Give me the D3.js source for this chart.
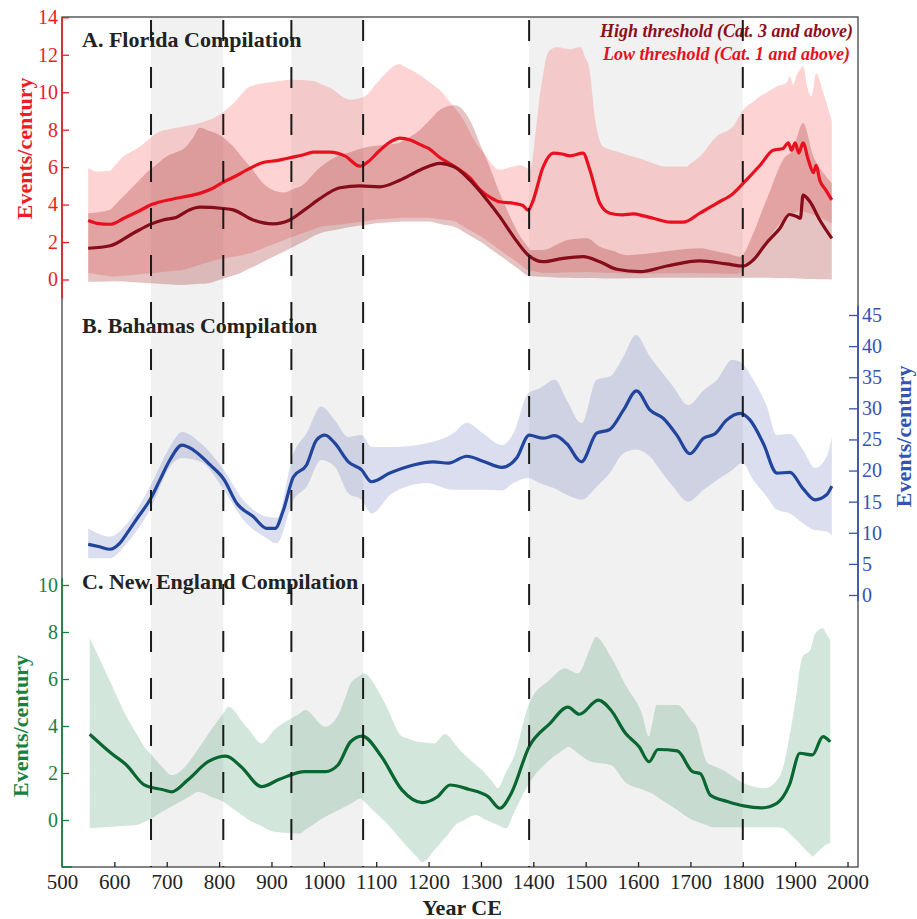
<!DOCTYPE html>
<html>
<head>
<meta charset="utf-8">
<script src="https://cdn.jsdelivr.net/npm/d3@7"></script>
<style>
  body { margin: 0; background: #fff; }
  svg { display: block; }
  text { font-family: "Liberation Serif", "Times New Roman", serif; }
</style>
</head>
<body>
<svg id="chart" width="917" height="919"></svg>
<script>
// ---------- Data (events per century, by year CE) ----------

// Florida, low threshold (Cat. 1 and above)
const flLowYears = [550,567,592,620,650,671,712,740,763,790,808,830,853,884,910,935,960,980,1012,1040,1069,1085,1107,1130,1145,1165,1184,1200,1222,1240,1260,1280,1298,1320,1336,1362,1380,1390,1398,1419,1438,1455,1470,1495,1508,1527,1546,1570,1591,1610,1629,1661,1686,1718,1750,1782,1801,1833,1858,1877,1887,1893,1900,1907,1915,1925,1935,1940,1947,1958,1970];
const flLowMean  = [3.15,3.0,2.95,3.3,3.7,4.0,4.3,4.45,4.6,4.9,5.2,5.5,5.85,6.25,6.35,6.5,6.65,6.8,6.8,6.6,6.05,6.3,6.9,7.4,7.55,7.45,7.2,7.0,6.5,6.2,5.85,5.4,4.8,4.35,4.15,4.07,3.95,3.7,4.1,6.03,6.75,6.7,6.6,6.75,5.85,4.07,3.54,3.45,3.5,3.4,3.27,3.06,3.06,3.54,4.07,4.6,5.14,6.1,6.9,7.0,7.3,6.9,7.3,6.75,7.3,6.4,5.7,6.1,5.3,4.8,4.25];

const flLowBandUpYears = [550,567,592,611,649,680,719,763,795,827,859,891,935,980,1012,1050,1079,1107,1145,1184,1222,1260,1298,1336,1375,1394,1405,1413,1422,1430,1445,1470,1490,1505,1520,1533,1559,1610,1655,1693,1718,1750,1782,1801,1833,1865,1884,1890,1896,1904,1915,1924,1931,1940,1954,1970];
const flLowBandUp = [5.95,5.76,5.8,6.4,7.1,7.8,8.1,8.35,8.7,9.4,10.3,10.5,10.67,10.6,10.24,9.6,9.8,10.67,11.5,10.9,10.1,8.8,7.0,5.86,6.1,5.86,8.0,9.96,11.5,12.2,12.4,12.3,12.4,11.5,8.2,7.1,6.84,6.4,6.03,6.03,6.57,7.64,8.2,9.06,9.78,10.3,10.5,10.85,10.4,11.0,11.4,10.2,9.78,11.0,9.96,8.44];
const flLowBandLoYears = [550,598,668,727,795,859,923,993,1050,1100,1150,1200,1250,1300,1350,1390,1420,1500,1600,1700,1790,1820,1845,1865,1885,1908,1940,1970];
const flLowBandLo = [0.33,0.15,0.33,0.5,1.04,1.4,2.1,2.82,3.0,3.2,3.3,3.3,3.1,2.3,1.3,0.5,0.35,0.4,0.3,0.35,0.3,1.0,2.0,2.8,3.4,3.7,3.4,3.0];

// Florida, high threshold (Cat. 3 and above)
const flHighYears = [550,592,636,671,693,719,744,763,808,827,865,903,935,967,989,1031,1069,1107,1145,1184,1222,1250,1279,1310,1336,1362,1390,1419,1457,1495,1527,1559,1604,1655,1718,1769,1801,1820,1845,1871,1889,1903,1910,1915,1928,1947,1970];
const flHighMean  = [1.67,1.8,2.47,2.97,3.18,3.33,3.72,3.86,3.79,3.72,3.18,2.97,3.18,3.8,4.25,4.9,5.0,4.95,5.3,5.85,6.2,6.0,5.3,4.3,3.36,2.29,1.31,0.95,1.13,1.22,0.95,0.55,0.42,0.72,0.99,0.83,0.72,1.04,1.94,2.74,3.47,3.36,3.27,4.5,4.16,3.18,2.2];

const flHighBandUpYears = [550,592,636,668,700,728,751,763,795,827,859,891,923,955,993,1031,1088,1145,1184,1222,1250,1279,1317,1336,1355,1375,1394,1419,1464,1502,1527,1578,1623,1674,1718,1769,1795,1820,1845,1877,1896,1915,1935,1954,1970];
const flHighBandUp = [3.54,3.72,4.96,5.86,6.57,6.9,7.6,8.1,7.8,7.1,6.03,4.96,4.64,4.96,6.0,6.65,7.1,7.3,8.0,9.06,9.3,8.5,6.0,4.6,3.4,2.3,1.58,1.58,2.1,2.2,1.75,1.3,1.4,1.58,1.67,1.4,1.22,2.47,4.25,6.4,6.95,8.35,6.57,5.68,5.14];
const flHighBandLoYears = [550,600,671,727,780,840,891,942,993,1050,1100,1150,1200,1250,1300,1350,1390,1450,1550,1650,1750,1850,1970];
const flHighBandLo = [-0.12,-0.1,-0.2,-0.3,-0.2,0.33,1.04,1.75,2.47,2.8,3.0,3.1,3.1,2.8,2.0,1.0,0.2,0.1,0.05,0.1,0.1,0.1,0.0];

// Bahamas
const baYears = [550,570,592,610,624,645,668,687,706,729,751,783,809,834,865,891,907,923,942,967,986,1002,1021,1047,1072,1091,1126,1171,1209,1238,1273,1304,1340,1368,1392,1419,1441,1464,1492,1521,1546,1572,1597,1623,1648,1674,1699,1725,1747,1769,1795,1814,1839,1865,1890,1915,1938,1960,1970];
const baMean  = [8.15,7.8,7.35,8.3,9.9,12.5,15.3,18.5,21.7,24.1,23.3,20.9,18.6,14.7,12.6,10.7,10.7,13.7,19.0,20.9,24.9,25.7,24.4,21.4,20.1,18.2,19.6,20.9,21.4,21.2,22.3,21.5,20.5,22.0,25.7,25.2,25.6,24.3,21.4,26.0,26.6,29.7,32.8,29.7,28.4,25.7,22.7,25.2,25.9,28.1,29.2,28.1,24.4,19.6,19.7,17.1,15.3,16.1,17.5];
const baBandYears = [550,592,624,668,706,729,765,809,846,891,910,942,967,995,1021,1047,1072,1091,1130,1196,1247,1273,1304,1340,1362,1390,1412,1441,1464,1492,1521,1546,1572,1596,1623,1642,1667,1696,1725,1751,1780,1799,1820,1846,1865,1890,1915,1938,1960,1970];
const baBandUp = [10.7,9.4,11.5,17.4,23.8,26.2,24.4,20.1,15.3,12.6,12.4,22.8,26.0,30.3,28.1,25.4,25.7,23.8,23.8,24.4,26.0,27.7,26.0,24.1,26.0,32.4,33.2,34.6,31.3,27.6,34.6,35.1,38.3,41.8,38.3,36.2,33.5,30.5,32.9,34.6,37.8,37.2,34.6,30.3,25.7,25.9,23.3,20.4,22.2,25.4];
const baBandLo = [5.9,5.9,8.3,13.7,20.6,22.0,21.4,16.9,12.1,9.1,8.3,15.3,17.4,21.7,20.6,16.3,15.3,13.1,16.3,18.0,16.9,16.9,16.9,16.8,18.0,18.8,18.0,17.1,16.1,15.3,17.4,19.6,22.8,23.4,22.2,20.1,17.4,15.0,16.9,18.5,20.1,21.2,18.5,15.8,13.7,13.1,11.5,10.4,10.2,9.6];

// New England
const neYears = [553,594,623,657,671,691,710,740,779,813,842,881,915,964,1003,1027,1051,1073,1110,1149,1188,1217,1241,1276,1314,1336,1358,1392,1431,1466,1488,1524,1548,1576,1602,1621,1638,1675,1704,1719,1738,1772,1802,1836,1865,1889,1909,1933,1953,1967];
const neMean  = [3.65,2.84,2.34,1.49,1.38,1.3,1.2,1.7,2.48,2.72,2.27,1.42,1.73,2.06,2.06,2.34,3.33,3.57,2.7,1.28,0.74,0.99,1.49,1.31,0.99,0.5,1.14,3.12,4.09,4.8,4.5,5.1,4.68,3.69,3.12,2.48,3.0,2.94,2.06,1.97,1.06,0.78,0.6,0.52,0.71,1.49,2.84,2.77,3.55,3.33];
const neBandUpYears = [553,594,623,657,691,710,750,789,818,847,881,905,964,1003,1032,1051,1075,1110,1149,1178,1212,1231,1266,1305,1332,1363,1392,1431,1461,1485,1519,1548,1578,1607,1621,1636,1675,1709,1733,1762,1802,1841,1870,1899,1914,1929,1938,1953,1967];
const neBandUp = [7.73,5.8,4.4,3.12,2.27,1.91,2.69,3.97,4.82,4.1,3.26,3.83,4.68,3.97,4.68,5.8,6.24,5.25,3.55,3.33,3.26,3.66,2.84,2.06,1.35,2.69,4.96,5.96,6.46,6.24,7.8,6.95,5.67,4.54,3.55,4.89,4.89,4.04,2.41,2.13,1.56,1.35,1.84,4.82,6.95,7.23,7.94,8.16,7.66];
const neBandLoYears = [553,643,666,691,759,808,857,905,954,1003,1041,1071,1120,1159,1188,1217,1256,1290,1324,1348,1392,1431,1466,1510,1548,1578,1626,1665,1704,1743,1802,1870,1899,1933,1958,1967];
const neBandLo = [-0.35,-0.21,0,0.35,1.2,0.78,0,-0.5,-0.57,0.14,0.57,0.92,-0.14,-1.14,-1.8,-1.14,-0.14,0.21,-0.14,-0.35,1.56,2.55,3.12,2.48,2.34,1.56,1.14,0.57,0,-0.31,-0.31,-0.31,-0.78,-1.56,-1.06,-0.99];

// Periods and boundaries
const shadedPeriods = [[670, 808], [938, 1075], [1392, 1800]];
const boundaryYears = [670, 808, 938, 1075, 1392, 1800];

// Axis ticks
const xTicks = [500,600,700,800,900,1000,1100,1200,1300,1400,1500,1600,1700,1800,1900,2000];
const flTicks = [0,2,4,6,8,10,12,14];
const baTicks = [0,5,10,15,20,25,30,35,40,45];
const neTicks = [0,2,4,6,8,10];

// ---------- Layout ----------
const plotL = 62, plotR = 858, plotT = 17, plotB = 867;

const svg = d3.select("#chart");

const x = d3.scaleLinear().domain([500, 2020]).range([plotL, plotR]);
const yFL = d3.scaleLinear().domain([0, 14]).range([279.5, 17.3]);
const yBA = d3.scaleLinear().domain([0, 45]).range([595, 315]);
const yNE = d3.scaleLinear().domain([0, 10]).range([820, 585]);

const zip = (xs, ys) => xs.map((v, i) => [v, ys[i]]);

// Build a band from separate upper/lower series by sampling both on a shared year grid
function bandPath(upYears, up, loYears, lo, y) {
  const grid = Array.from(new Set([...upYears, ...loYears])).sort((a, b) => a - b);
  const interp = (xs, ys, t) => {
    if (t <= xs[0]) return ys[0];
    if (t >= xs[xs.length - 1]) return ys[ys.length - 1];
    const i = d3.bisectRight(xs, t);
    const f = (t - xs[i - 1]) / (xs[i] - xs[i - 1]);
    return ys[i - 1] + f * (ys[i] - ys[i - 1]);
  };
  const pts = grid.map(t => [t, interp(upYears, up, t), interp(loYears, lo, t)]);
  return d3.area()
    .x(d => x(d[0]))
    .y0(d => y(d[2]))
    .y1(d => y(d[1]))
    .curve(d3.curveMonotoneX)(pts);
}

const linePath = (xs, ys, y) => d3.line()
  .x(d => x(d[0])).y(d => y(d[1]))
  .curve(d3.curveMonotoneX)(zip(xs, ys));

// ---------- Shaded periods ----------
svg.append("g").selectAll("rect")
  .data(shadedPeriods).join("rect")
  .attr("x", d => x(d[0])).attr("width", d => x(d[1]) - x(d[0]))
  .attr("y", plotT).attr("height", plotB - plotT)
  .attr("fill", "#f1f1f1");

// ---------- Florida ----------
const gFL = svg.append("g");
gFL.append("path")
  .attr("d", bandPath(flLowBandUpYears, flLowBandUp, flLowBandLoYears, flLowBandLo, yFL))
  .attr("fill", "rgb(250,110,110)").attr("fill-opacity", 0.3);
gFL.append("path")
  .attr("d", bandPath(flHighBandUpYears, flHighBandUp, flHighBandLoYears, flHighBandLo, yFL))
  .attr("fill", "rgb(160,40,40)").attr("fill-opacity", 0.28);
gFL.append("path")
  .attr("d", linePath(flLowYears, flLowMean, yFL))
  .attr("fill", "none").attr("stroke", "#e8101e").attr("stroke-width", 3.2);
gFL.append("path")
  .attr("d", linePath(flHighYears, flHighMean, yFL))
  .attr("fill", "none").attr("stroke", "#850c18").attr("stroke-width", 3.2);

// ---------- Bahamas ----------
const gBA = svg.append("g");
gBA.append("path")
  .attr("d", bandPath(baBandYears, baBandUp, baBandYears, baBandLo, yBA))
  .attr("fill", "rgb(70,90,175)").attr("fill-opacity", 0.2);
gBA.append("path")
  .attr("d", linePath(baYears, baMean, yBA))
  .attr("fill", "none").attr("stroke", "#21459c").attr("stroke-width", 3.2);

// ---------- New England ----------
const gNE = svg.append("g");
gNE.append("path")
  .attr("d", bandPath(neBandUpYears, neBandUp, neBandLoYears, neBandLo, yNE))
  .attr("fill", "rgb(50,140,95)").attr("fill-opacity", 0.22);
gNE.append("path")
  .attr("d", linePath(neYears, neMean, yNE))
  .attr("fill", "none").attr("stroke", "#0a6631").attr("stroke-width", 3.2);

// ---------- Panel titles ----------
const titles = [
  { t: "A. Florida Compilation", y: 47 },
  { t: "B. Bahamas Compilation", y: 333 },
  { t: "C. New England Compilation", y: 589 }
];
svg.append("g").selectAll("text").data(titles).join("text")
  .attr("x", 82).attr("y", d => d.y)
  .attr("font-size", 22).attr("font-weight", "bold").attr("fill", "#222")
  .text(d => d.t);

// Legend
svg.append("text").attr("x", 853).attr("y", 37).attr("text-anchor", "end")
  .attr("font-size", 18).attr("font-weight", "bold").attr("font-style", "italic")
  .attr("fill", "#8a0f1c").text("High threshold (Cat. 3 and above)");
svg.append("text").attr("x", 850).attr("y", 60).attr("text-anchor", "end")
  .attr("font-size", 18).attr("font-weight", "bold").attr("font-style", "italic")
  .attr("fill", "#e8101e").text("Low threshold (Cat. 1 and above)");

// ---------- Boundary dashed lines ----------
svg.append("g").selectAll("line").data(boundaryYears).join("line")
  .attr("x1", d => x(d)).attr("x2", d => x(d))
  .attr("y1", plotT + 3).attr("y2", plotB)
  .attr("stroke", "#1a1a1a").attr("stroke-width", 2)
  .attr("stroke-dasharray", "21,26");

// ---------- Frame ----------
svg.append("rect")
  .attr("x", plotL).attr("y", plotT).attr("width", plotR - plotL).attr("height", plotB - plotT)
  .attr("fill", "none").attr("stroke", "#333").attr("stroke-width", 1.2);

// ---------- Axes ----------
function styleAxis(g, color, size) {
  g.select(".domain").remove();
  g.selectAll(".tick line").attr("stroke", color).attr("stroke-width", 1.3);
  g.selectAll(".tick text").attr("fill", color).attr("font-size", size)
    .attr("font-family", "Liberation Serif, Times New Roman, serif");
}

// Florida (left, red)
const flColor = "#ee1c25";
const axFL = svg.append("g").attr("transform", `translate(${plotL},0)`)
  .call(d3.axisLeft(yFL).tickValues(flTicks).tickSize(-7).tickPadding(4).tickFormat(d3.format("d")));
styleAxis(axFL, flColor, 20);
svg.append("line").attr("x1", plotL).attr("x2", plotL)
  .attr("y1", yFL(-1)).attr("y2", plotT)
  .attr("stroke", flColor).attr("stroke-width", 1.6);
svg.append("text")
  .attr("transform", `translate(32,${yFL(7)}) rotate(-90)`)
  .attr("text-anchor", "middle").attr("font-size", 22).attr("font-weight", "bold")
  .attr("fill", flColor).text("Events/century");

// Bahamas (right, blue)
const baColor = "#3552b5";
const axBA = svg.append("g").attr("transform", `translate(${plotR},0)`)
  .call(d3.axisRight(yBA).tickValues(baTicks).tickSize(-9).tickPadding(4).tickFormat(d3.format("d")));
styleAxis(axBA, baColor, 20);
svg.append("line").attr("x1", plotR).attr("x2", plotR)
  .attr("y1", yBA(-1)).attr("y2", yBA(46.5))
  .attr("stroke", baColor).attr("stroke-width", 1.6);
svg.append("text")
  .attr("transform", `translate(911,${yBA(25.5)}) rotate(-90)`)
  .attr("text-anchor", "middle").attr("font-size", 22).attr("font-weight", "bold")
  .attr("fill", baColor).text("Events/century");

// New England (left, green)
const neColor = "#19813f";
const axNE = svg.append("g").attr("transform", `translate(${plotL},0)`)
  .call(d3.axisLeft(yNE).tickValues(neTicks).tickSize(-7).tickPadding(4).tickFormat(d3.format("d")));
styleAxis(axNE, neColor, 20);
svg.append("line").attr("x1", plotL).attr("x2", plotL)
  .attr("y1", plotB).attr("y2", yNE(10.3))
  .attr("stroke", neColor).attr("stroke-width", 1.6);
svg.append("line").attr("x1", plotL).attr("x2", plotL + 10)
  .attr("y1", plotB).attr("y2", plotB)
  .attr("stroke", neColor).attr("stroke-width", 1.6);
svg.append("text")
  .attr("transform", `translate(28,${yNE(4)}) rotate(-90)`)
  .attr("text-anchor", "middle").attr("font-size", 22).attr("font-weight", "bold")
  .attr("fill", neColor).text("Events/century");

// Year axis (bottom)
const axX = svg.append("g").attr("transform", `translate(0,${plotB})`)
  .call(d3.axisBottom(x).tickValues(xTicks).tickSize(-5).tickPadding(7).tickFormat(d3.format("d")));
styleAxis(axX, "#222", 21);
axX.selectAll(".tick").filter(d => d === 500).select("line").remove();
svg.append("text")
  .attr("x", (plotL + plotR) / 2 + 2).attr("y", 915)
  .attr("text-anchor", "middle").attr("font-size", 22).attr("font-weight", "bold")
  .attr("fill", "#222").text("Year CE");
</script>
</body>
</html>
